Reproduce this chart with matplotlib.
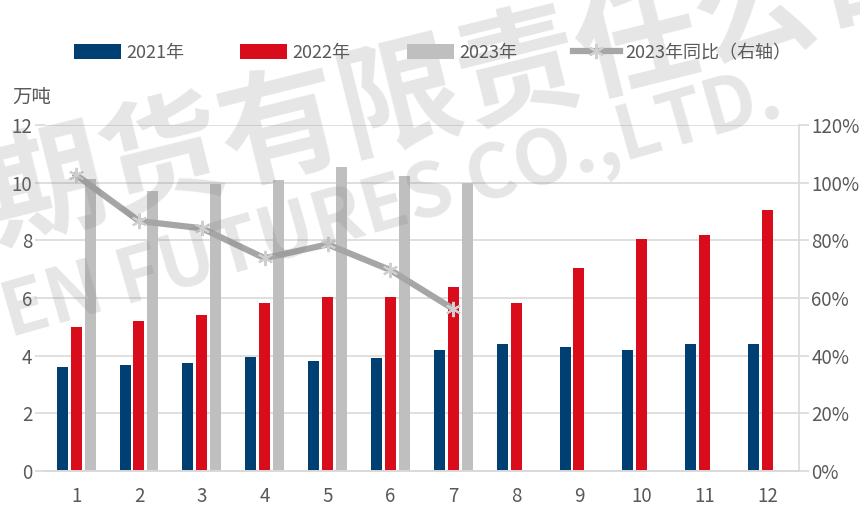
import matplotlib.pyplot as plt
import numpy as np

plt.rcParams['font.family'] = ['Noto Sans CJK SC', 'DejaVu Sans']

months = [1, 2, 3, 4, 5, 6, 7, 8, 9, 10, 11, 12]
y2021 = [3.62, 3.67, 3.75, 3.94, 3.82, 3.93, 4.20, 4.39, 4.29, 4.20, 4.39, 4.39]
y2022 = [4.99, 5.20, 5.40, 5.82, 6.02, 6.02, 6.38, 5.84, 7.03, 8.06, 8.19, 9.05]
y2023 = [10.12, 9.72, 9.95, 10.09, 10.55, 10.24, 9.99]
yoy2023 = [102.7, 86.7, 84.2, 73.8, 78.6, 69.7, 56.2]

c_blue = '#003f72'
c_red = '#d90c1b'
c_gray = '#bfbfbf'
c_line = '#a6a6a6'
c_text = '#595959'

fig = plt.figure(figsize=(8.6, 5.14), dpi=100)
ax = fig.add_axes([0.052, 0.0837, 0.877, 0.673])
ax2 = ax.twinx()

x = np.array(months)
w = 0.175
step = 0.222
ax.bar(x - step, y2021, w, color=c_blue, label='2021年', zorder=2)
ax.bar(x, y2022, w, color=c_red, label='2022年', zorder=2)
ax.bar(x[:len(y2023)] + step, y2023, w, color=c_gray, label='2023年', zorder=2)

ax2.plot(x[:len(yoy2023)], yoy2023, color=c_line, lw=4.5, marker=(6, 2, 0),
         ms=11, mec='#cfcfcf', mew=1.5, label='2023年同比（右轴）', zorder=3)

ax.set_xlim(0.5, 12.5)
ax.set_ylim(0, 12)
ax.set_yticks(range(0, 13, 2))
ax.set_xticks(months)
ax2.set_ylim(0, 120)
ax2.set_yticks(range(0, 121, 20))
ax2.set_yticklabels([f'{v}%' for v in range(0, 121, 20)])

ax.grid(axis='y', color='#d9d9d9', lw=1.2, zorder=0)
ax.set_axisbelow(True)
for a in (ax, ax2):
    for s in ('top', 'left', 'right'):
        a.spines[s].set_visible(False)
    a.spines['bottom'].set_color('#d9d9d9')
    a.spines['bottom'].set_linewidth(1.2)
ax2.spines['right'].set_visible(True)
ax2.spines['right'].set_color('#d9d9d9')
ax2.spines['right'].set_linewidth(1.2)

ax.tick_params(axis='y', length=7, color='#d9d9d9', width=1.2, labelsize=13.5,
               labelcolor=c_text, pad=2)
ax.tick_params(axis='x', length=0, labelsize=13.5, labelcolor=c_text, pad=11)
ax2.tick_params(axis='y', length=7, color='#d9d9d9', width=1.2, labelsize=13.5,
                labelcolor=c_text, pad=2)

fig.text(0.014, 0.81, '万吨', fontsize=14, color=c_text, va='center')

h1, l1 = ax.get_legend_handles_labels()
h2, l2 = ax2.get_legend_handles_labels()
fig.legend(h1 + h2, l1 + l2, loc='center', bbox_to_anchor=(0.503, 0.897), ncol=4,
           frameon=False, fontsize=13, labelcolor=c_text, handlelength=2.6,
           handleheight=0.85, handletextpad=0.3, columnspacing=3.1)

# watermark
fig.text(0.535, 0.83, '期货有限责任公司', fontsize=88, color='#808080', alpha=0.2,
         rotation=14, ha='center', va='center', fontweight='bold')
fig.text(0.455, 0.60, 'EN FUTURES CO.,LTD.', fontsize=54,
         color='#808080', alpha=0.2, rotation=16, ha='center', va='center',
         fontweight='bold')

fig.savefig('out.png', dpi=100)
